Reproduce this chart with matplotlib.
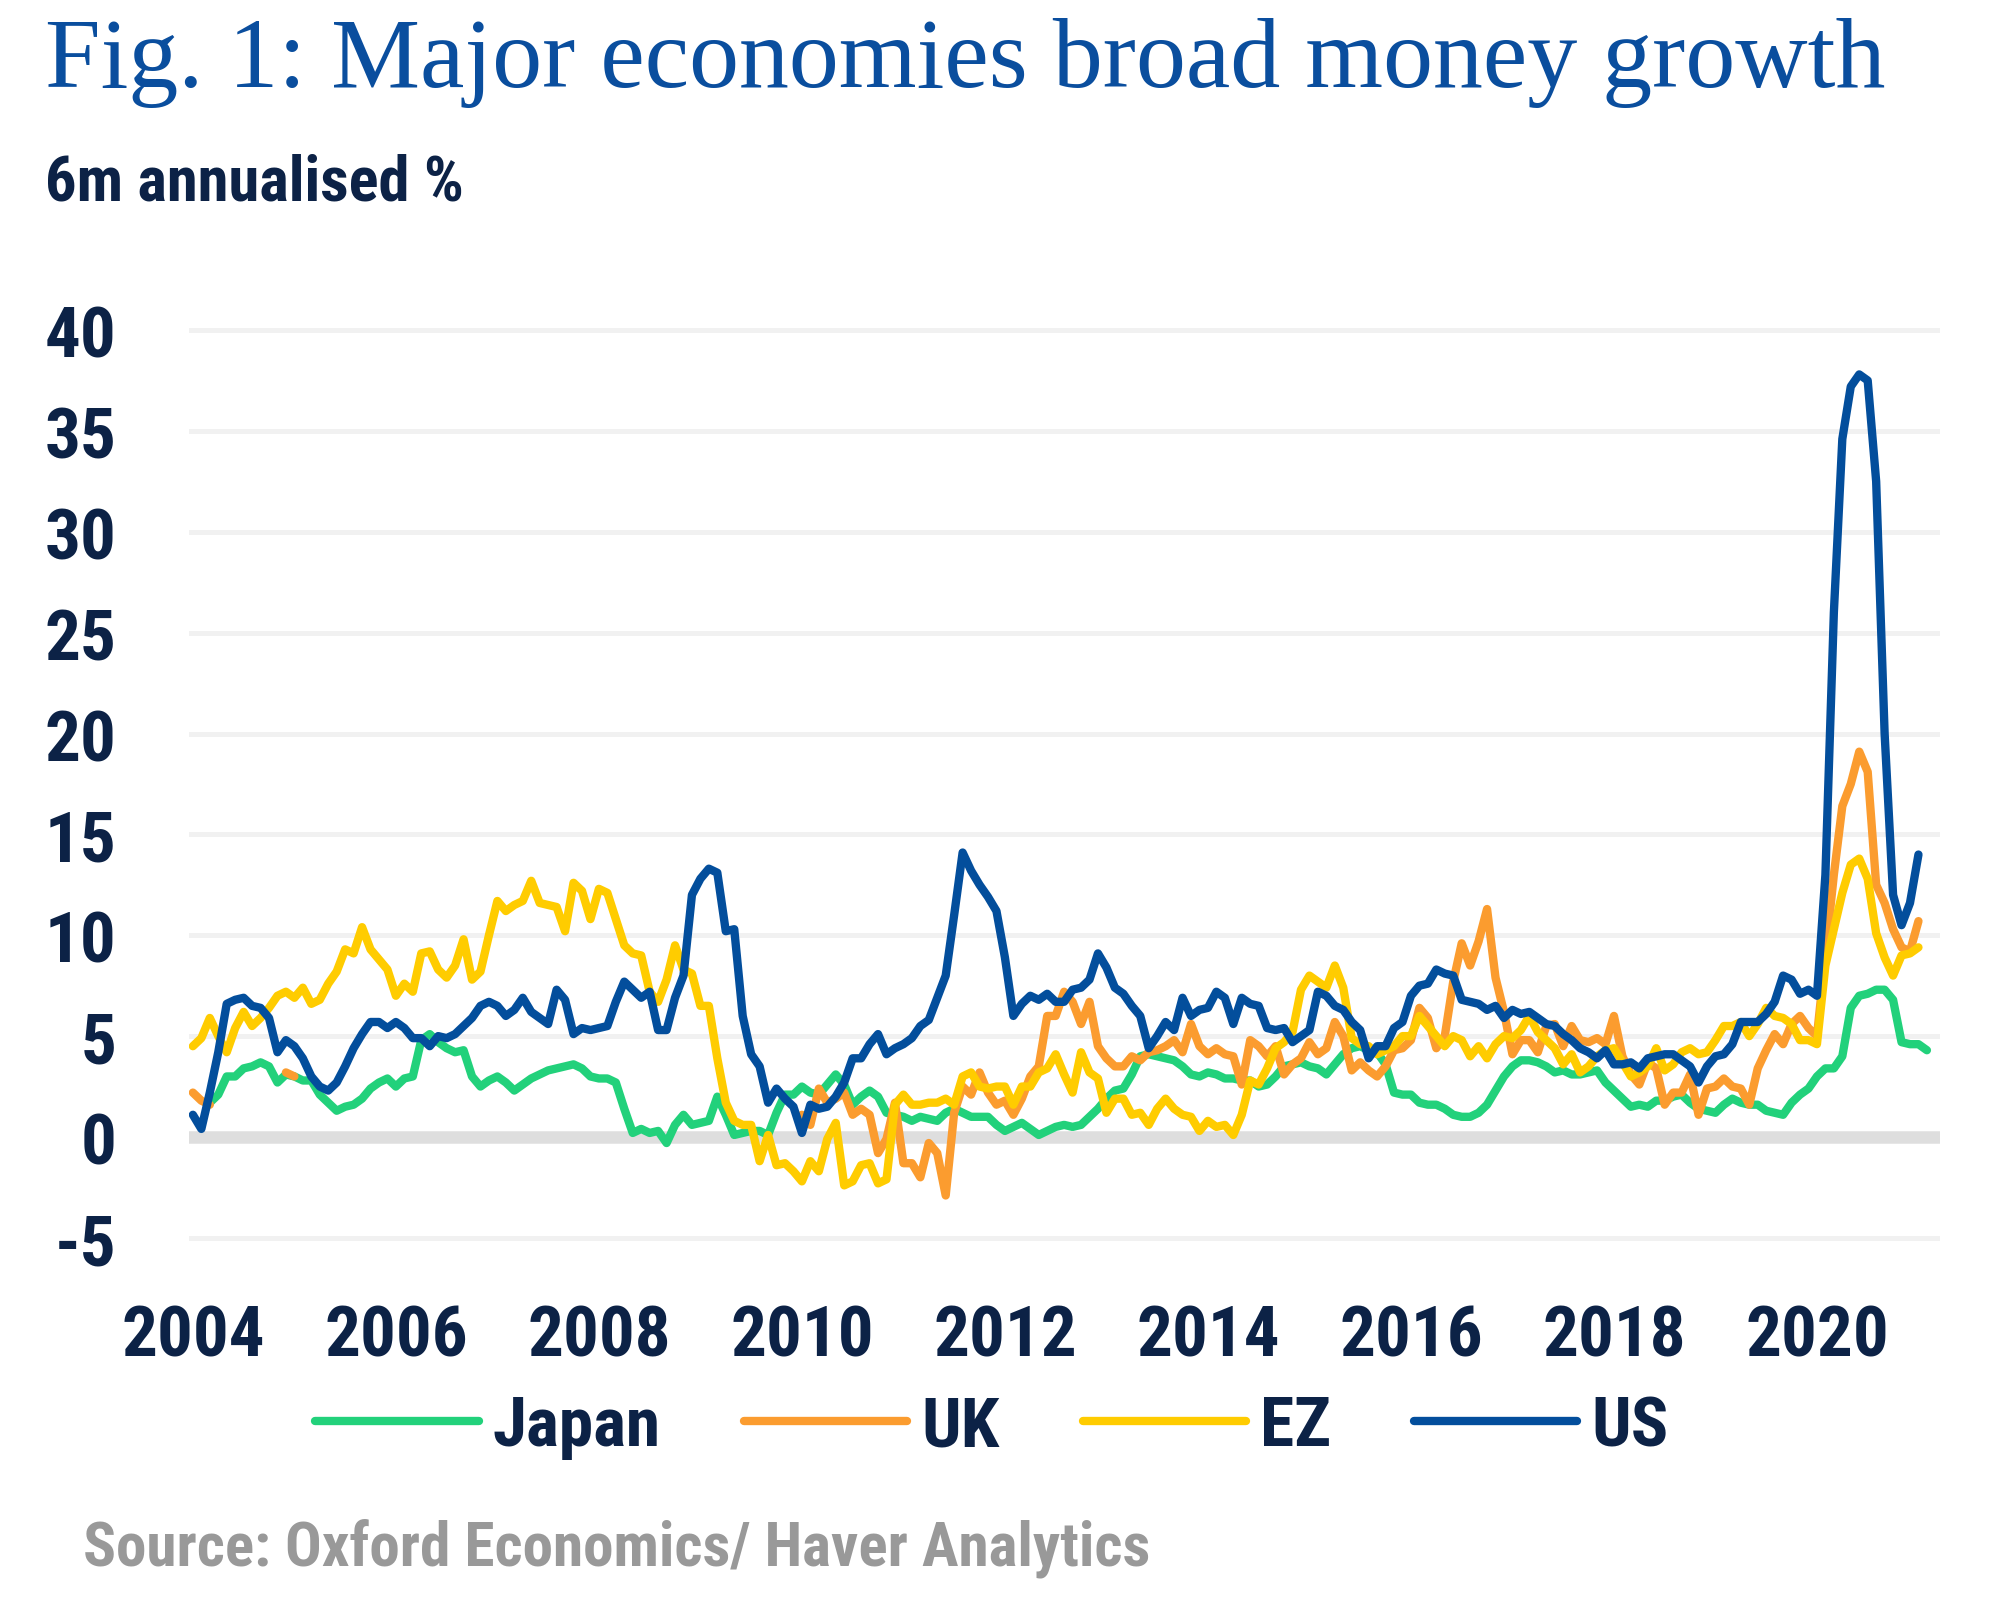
import numpy as np
import matplotlib
matplotlib.use("Agg")
import matplotlib.pyplot as plt
from matplotlib import font_manager as fm
from matplotlib.lines import Line2D

nan = np.nan

# monthly data, Jan 2004 onwards (6m annualised %)
japan = [
    nan, nan, 1.7, 2.1, 3.0, 3.0, 3.4, 3.5, 3.7, 3.5, 2.7, 3.1,      # 2004
    3.0, 2.8, 2.8, 2.1, 1.7, 1.3, 1.5, 1.6, 1.9, 2.4, 2.7, 2.9,      # 2005
    2.5, 2.9, 3.0, 4.8, 5.1, 4.7, 4.4, 4.2, 4.3, 3.0, 2.5, 2.8,      # 2006
    3.0, 2.7, 2.3, 2.6, 2.9, 3.1, 3.3, 3.4, 3.5, 3.6, 3.4, 3.0,      # 2007
    2.9, 2.9, 2.7, 1.4, 0.2, 0.4, 0.2, 0.3, -0.3, 0.6, 1.1, 0.6,     # 2008
    0.7, 0.8, 2.0, 1.1, 0.1, 0.2, 0.3, 0.3, 0.1, 1.2, 2.1, 2.1,      # 2009
    2.5, 2.2, 2.1, 2.6, 3.1, 2.6, 1.6, 2.0, 2.3, 2.0, 1.2, 1.1,      # 2010
    1.0, 0.8, 1.0, 0.9, 0.8, 1.2, 1.4, 1.2, 1.0, 1.0, 1.0, 0.6,      # 2011
    0.3, 0.5, 0.7, 0.4, 0.1, 0.3, 0.5, 0.6, 0.5, 0.6, 1.0, 1.4,      # 2012
    1.9, 2.3, 2.4, 3.1, 4.0, 4.1, 4.0, 3.9, 3.8, 3.5, 3.1, 3.0,      # 2013
    3.2, 3.1, 2.9, 2.9, 2.8, 2.8, 2.5, 2.6, 3.0, 3.5, 3.6, 3.7,      # 2014
    3.5, 3.4, 3.1, 3.6, 4.1, 4.4, 4.5, 4.3, 4.2, 3.6, 2.2, 2.1,      # 2015
    2.1, 1.7, 1.6, 1.6, 1.4, 1.1, 1.0, 1.0, 1.2, 1.6, 2.3, 3.0,      # 2016
    3.5, 3.8, 3.8, 3.7, 3.5, 3.2, 3.3, 3.1, 3.1, 3.2, 3.3, 2.7,      # 2017
    2.3, 1.9, 1.5, 1.6, 1.5, 1.8, 1.8, 2.0, 2.1, 1.7, 1.4, 1.3,      # 2018
    1.2, 1.6, 1.9, 1.7, 1.6, 1.6, 1.3, 1.2, 1.1, 1.7, 2.1, 2.4,      # 2019
    3.0, 3.4, 3.4, 4.0, 6.4, 7.0, 7.1, 7.3, 7.3, 6.8, 4.7, 4.6,      # 2020
    4.6, 4.3,                                                        # 2021
]

uk = [
    2.2, 1.8, 1.6, nan, nan, nan, nan, nan, nan, nan, nan, 3.2,      # 2004
    3.0, nan, nan, nan, nan, nan, nan, nan, nan, nan, nan, nan,      # 2005
    nan, nan, nan, nan, nan, nan, nan, nan, nan, nan, nan, nan,      # 2006
    nan, nan, nan, nan, nan, nan, nan, nan, nan, nan, nan, nan,      # 2007
    nan, nan, nan, nan, nan, nan, nan, nan, nan, nan, nan, nan,      # 2008
    nan, nan, nan, nan, nan, nan, nan, nan, nan, nan, nan, nan,      # 2009
    1.1, 0.6, 2.4, 1.7, 1.9, 2.2, 1.1, 1.4, 1.1, -0.8, -0.1, 1.7,    # 2010
    -1.3, -1.3, -2.0, -0.3, -0.8, -2.9, 1.2, 2.5, 2.1, 3.2, 2.2, 1.6,  # 2011
    1.8, 1.1, 1.9, 3.0, 3.5, 6.0, 6.0, 7.2, 6.7, 5.6, 6.7, 4.5,      # 2012
    3.9, 3.5, 3.5, 4.0, 3.8, 4.2, 4.3, 4.5, 4.8, 4.2, 5.6, 4.5,      # 2013
    4.1, 4.4, 4.1, 4.0, 2.6, 4.8, 4.5, 4.0, 4.5, 3.1, 3.6, 3.9,      # 2014
    4.7, 4.1, 4.4, 5.7, 5.0, 3.3, 3.7, 3.3, 3.0, 3.5, 4.3, 4.4,      # 2015
    4.8, 6.4, 5.9, 4.4, 5.0, 7.7, 9.6, 8.5, 9.7, 11.3, 7.9, 6.2,     # 2016
    4.1, 4.8, 4.8, 4.2, 5.5, 5.6, 4.5, 5.5, 4.8, 4.7, 4.9, 4.6,      # 2017
    6.0, 4.0, 3.1, 2.6, 3.7, 3.4, 1.6, 2.2, 2.2, 3.1, 1.1, 2.4,      # 2018
    2.5, 2.9, 2.5, 2.4, 1.6, 3.4, 4.3, 5.1, 4.6, 5.6, 6.0, 5.4,      # 2019
    5.0, 9.0, 13.0, 16.4, 17.5, 19.1, 18.1, 12.5, 11.6, 10.3, 9.4, 9.2,  # 2020
    10.7, nan,                                                       # 2021
]

ez = [
    4.5, 4.9, 5.9, 5.0, 4.2, 5.4, 6.2, 5.5, 5.9, 6.4, 7.0, 7.2,      # 2004
    6.9, 7.4, 6.6, 6.8, 7.6, 8.2, 9.3, 9.1, 10.4, 9.3, 8.8, 8.3,     # 2005
    7.0, 7.6, 7.2, 9.1, 9.2, 8.3, 7.9, 8.5, 9.8, 7.8, 8.2, 10.0,     # 2006
    11.7, 11.2, 11.5, 11.7, 12.7, 11.6, 11.5, 11.4, 10.2, 12.6, 12.2, 10.8,  # 2007
    12.3, 12.1, 10.8, 9.5, 9.1, 9.0, 7.2, 6.7, 7.8, 9.5, 8.3, 8.1,   # 2008
    6.5, 6.5, 3.9, 1.7, 0.8, 0.6, 0.6, -1.2, 0.1, -1.4, -1.3, -1.7,  # 2009
    -2.2, -1.2, -1.7, -0.1, 0.7, -2.4, -2.2, -1.4, -1.3, -2.3, -2.1, 1.6,  # 2010
    2.1, 1.6, 1.6, 1.7, 1.7, 1.9, 1.6, 3.0, 3.2, 2.5, 2.4, 2.5,      # 2011
    2.5, 1.6, 2.5, 2.5, 3.2, 3.4, 4.1, 3.1, 2.2, 4.2, 3.2, 2.9,      # 2012
    1.2, 1.9, 1.9, 1.1, 1.2, 0.6, 1.4, 1.9, 1.4, 1.1, 1.0, 0.3,      # 2013
    0.8, 0.5, 0.6, 0.1, 1.1, 2.8, 2.6, 3.4, 4.4, 4.7, 5.2, 7.3,      # 2014
    8.0, 7.7, 7.4, 8.5, 7.4, 4.9, 4.6, 4.5, 4.1, 4.3, 4.5, 5.0,      # 2015
    5.0, 6.0, 5.5, 5.0, 4.5, 5.0, 4.8, 4.0, 4.5, 3.9, 4.6, 5.0,      # 2016
    4.9, 5.3, 6.0, 5.2, 4.8, 4.4, 3.6, 4.1, 3.2, 3.5, 4.0, 4.3,      # 2017
    4.4, 3.7, 3.0, 3.2, 3.5, 4.4, 3.3, 3.6, 4.2, 4.4, 4.1, 4.2,      # 2018
    4.8, 5.5, 5.5, 5.7, 5.0, 5.6, 6.4, 6.0, 5.9, 5.6, 4.8, 4.8,      # 2019
    4.6, 8.5, 10.3, 12.1, 13.5, 13.8, 12.8, 10.1, 8.9, 8.0, 9.0, 9.1,  # 2020
    9.4, nan,                                                        # 2021
]

us = [
    1.1, 0.4, 2.2, 4.2, 6.6, 6.8, 6.9, 6.5, 6.4, 5.9, 4.2, 4.8,      # 2004
    4.5, 3.9, 3.0, 2.5, 2.3, 2.7, 3.5, 4.4, 5.1, 5.7, 5.7, 5.4,      # 2005
    5.7, 5.4, 4.9, 4.9, 4.5, 5.0, 4.9, 5.1, 5.5, 5.9, 6.5, 6.7,      # 2006
    6.5, 6.0, 6.3, 6.9, 6.2, 5.9, 5.6, 7.3, 6.8, 5.1, 5.4, 5.3,      # 2007
    5.4, 5.5, 6.7, 7.7, 7.3, 6.9, 7.2, 5.3, 5.3, 6.9, 8.0, 12.0,     # 2008
    12.8, 13.3, 13.1, 10.2, 10.3, 6.0, 4.1, 3.5, 1.7, 2.4, 1.9, 1.5,  # 2009
    0.2, 1.6, 1.4, 1.5, 2.0, 2.7, 3.9, 3.9, 4.6, 5.1, 4.1, 4.4,      # 2010
    4.6, 4.9, 5.5, 5.8, 6.9, 8.0, 11.0, 14.1, 13.2, 12.5, 11.9, 11.2,  # 2011
    8.9, 6.0, 6.6, 7.0, 6.8, 7.1, 6.7, 6.7, 7.3, 7.4, 7.8, 9.1,      # 2012
    8.4, 7.4, 7.1, 6.5, 6.0, 4.4, 5.0, 5.7, 5.3, 6.9, 6.0, 6.3,      # 2013
    6.4, 7.2, 6.9, 5.6, 6.9, 6.6, 6.5, 5.4, 5.3, 5.4, 4.7, 5.0,      # 2014
    5.3, 7.2, 7.0, 6.5, 6.3, 5.7, 5.3, 3.9, 4.5, 4.5, 5.4, 5.7,      # 2015
    7.0, 7.5, 7.6, 8.3, 8.1, 8.0, 6.8, 6.7, 6.6, 6.3, 6.5, 5.9,      # 2016
    6.3, 6.1, 6.2, 5.9, 5.6, 5.5, 5.1, 4.8, 4.4, 4.2, 3.9, 4.3,      # 2017
    3.6, 3.6, 3.7, 3.4, 3.9, 4.0, 4.1, 4.1, 3.8, 3.5, 2.7, 3.5,      # 2018
    4.0, 4.1, 4.6, 5.7, 5.7, 5.7, 6.1, 6.7, 8.0, 7.8, 7.1, 7.3,      # 2019
    7.0, 13.0, 26.0, 34.6, 37.2, 37.8, 37.5, 32.5, 20.0, 12.0, 10.5, 11.6,  # 2020
    14.0, nan,                                                       # 2021
]

series_names = ["Japan", "UK", "EZ", "US"]
series_colors = ["#22d17b", "#fb9c2f", "#ffcc00", "#034e9c"]
yticks = [-5, 0, 5, 10, 15, 20, 25, 30, 35, 40]
xticks = [2004, 2006, 2008, 2010, 2012, 2014, 2016, 2018, 2020]

NAVY = "#0c2246"
TITLE_BLUE = "#0a4e9e"


def pick_font(names, **kw):
    for name in names:
        try:
            fm.findfont(fm.FontProperties(family=name, **kw), fallback_to_default=False)
            return name
        except ValueError:
            continue
    return "DejaVu Sans"


cond = pick_font(["Roboto Condensed", "Liberation Sans Narrow", "Noto Sans Condensed",
                  "Open Sans Condensed", "Roboto"], weight="bold")
serif = pick_font(["Liberation Serif", "DejaVu Serif"])

months = np.arange(len(us))
x = 2004 + months / 12.0

fig = plt.figure(figsize=(20.12, 16.08), dpi=100)
ax = fig.add_axes([0.0939, 0.2233, 0.8703, 0.5771])

for v in yticks:
    if v == 0:
        ax.axhline(v, color="#dedede", lw=9, zorder=1)
    else:
        ax.axhline(v, color="#f1f1f1", lw=3.6, zorder=1)

for vals, name, col in zip([japan, uk, ez, us], series_names, series_colors):
    ax.plot(x, vals, color=col, lw=6, solid_joinstyle="round",
            solid_capstyle="round", zorder=3, label=name)

ax.set_xlim(2003.961, 2021.212)
ax.set_ylim(-5.5, 40.5)
ax.set_yticks(yticks)
ax.set_yticklabels([str(v) for v in yticks])
ax.set_xticks(xticks)
ax.set_xticklabels([str(v) for v in xticks])
ax.tick_params(axis="both", length=0, colors=NAVY)
ax.tick_params(axis="y", pad=52)
ax.tick_params(axis="x", pad=39)
for lab in ax.get_xticklabels() + ax.get_yticklabels():
    lab.set_fontfamily(cond)
    lab.set_fontweight("bold")
    lab.set_fontsize(51)
for s in ax.spines.values():
    s.set_visible(False)

fig.text(0.0224, 0.9459, "Fig. 1: Major economies broad money growth",
         fontfamily=serif, fontsize=72, color=TITLE_BLUE, va="baseline", ha="left")
fig.text(0.0224, 0.8756, "6m annualised %", fontfamily=cond, fontweight="bold",
         fontsize=45, color=NAVY, va="baseline", ha="left")
fig.text(0.0413, 0.0267, "Source: Oxford Economics/ Haver Analytics", fontfamily=cond,
         fontweight="bold", fontsize=44, color="#999999", va="baseline", ha="left")

handles = [Line2D([], [], color=c, lw=6, solid_capstyle="round") for c in series_colors]
fig.legend(handles, series_names, loc="center", bbox_to_anchor=(0.493, 0.112), ncol=4,
           frameon=False, prop=dict(family=cond, weight="bold", size=50),
           labelcolor=NAVY, handlelength=2.35, handletextpad=0.2, columnspacing=1.2)

fig.savefig("out.png", dpi=100, facecolor="white")
